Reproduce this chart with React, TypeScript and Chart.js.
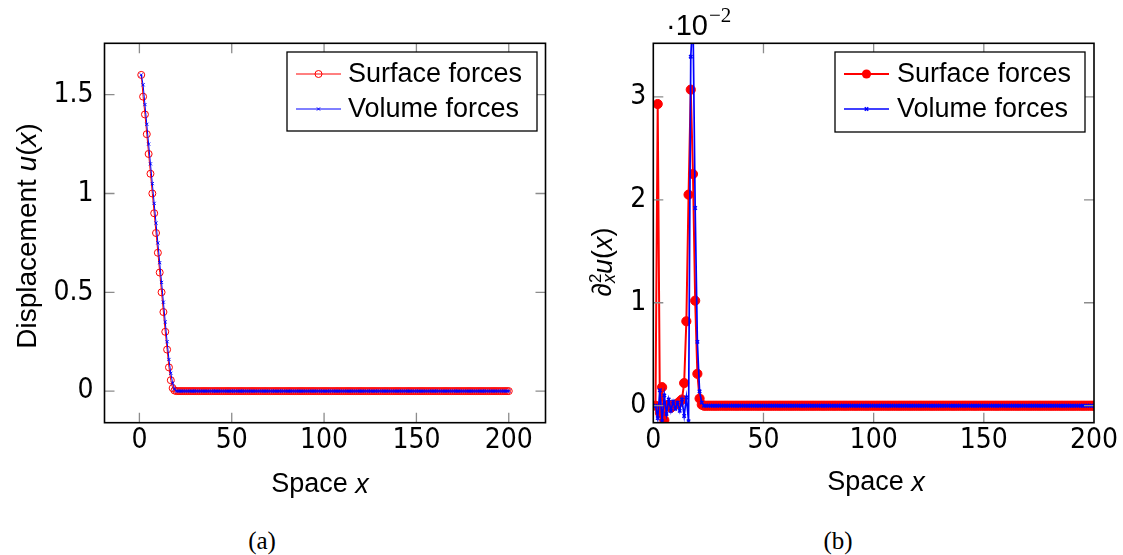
import React, { useEffect, useRef } from "react";
import { Chart, registerables } from "chart.js";

Chart.register(...registerables);

// ---------------- data ----------------
// Space x runs over the grid nodes 1..200 (one point per node).
const FIRST_X = 1;

// heads (x = 1..22)
const leftSurfaceHead = [1.6, 1.49, 1.4, 1.3, 1.2, 1.1, 1.0, 0.9, 0.8, 0.7, 0.6, 0.5, 0.4, 0.3, 0.21, 0.12, 0.055, 0.015, 0.003, 0, 0, 0];
const leftVolumeHead = [1.6, 1.55, 1.45, 1.35, 1.25, 1.15, 1.05, 0.95, 0.85, 0.75, 0.65, 0.55, 0.45, 0.35, 0.25, 0.16, 0.09, 0.04, 0.01, 0, 0, 0];
const rightSurfaceHead = [0, 2.93, -0.07, 0.18, -0.14, 0.0, 0.01, -0.02, 0.0, 0.01, 0.02, 0.04, 0.06, 0.22, 0.82, 2.05, 3.07, 2.25, 1.02, 0.31, 0.07, 0.01];
const rightVolumeHead = [0, -0.12, 0.15, -0.15, 0.1, -0.08, 0.06, -0.05, 0.04, -0.03, 0.03, -0.05, 0.06, -0.1, 0.08, -0.15, 3.39, 3.8, 1.92, 0.62, 0.14, 0.03];

// flat tail (x = 23..200): every curve sits on zero
const flatTail = [
  0, 0, 0, 0, 0, 0, 0, 0, 0, 0,
  0, 0, 0, 0, 0, 0, 0, 0, 0, 0,
  0, 0, 0, 0, 0, 0, 0, 0, 0, 0,
  0, 0, 0, 0, 0, 0, 0, 0, 0, 0,
  0, 0, 0, 0, 0, 0, 0, 0, 0, 0,
  0, 0, 0, 0, 0, 0, 0, 0, 0, 0,
  0, 0, 0, 0, 0, 0, 0, 0, 0, 0,
  0, 0, 0, 0, 0, 0, 0, 0, 0, 0,
  0, 0, 0, 0, 0, 0, 0, 0, 0, 0,
  0, 0, 0, 0, 0, 0, 0, 0, 0, 0,
  0, 0, 0, 0, 0, 0, 0, 0, 0, 0,
  0, 0, 0, 0, 0, 0, 0, 0, 0, 0,
  0, 0, 0, 0, 0, 0, 0, 0, 0, 0,
  0, 0, 0, 0, 0, 0, 0, 0, 0, 0,
  0, 0, 0, 0, 0, 0, 0, 0, 0, 0,
  0, 0, 0, 0, 0, 0, 0, 0, 0, 0,
  0, 0, 0, 0, 0, 0, 0, 0, 0, 0,
  0, 0, 0, 0, 0, 0, 0, 0,
];

const leftSurface = [...leftSurfaceHead, ...flatTail];
const leftVolume = [...leftVolumeHead, ...flatTail];
const rightSurface = [...rightSurfaceHead, ...flatTail];
const rightVolume = [...rightVolumeHead, ...flatTail];

const xTickValues = [0, 50, 100, 150, 200];
const leftYTickValues = [0, 0.5, 1, 1.5];
const leftYTickLabels = ["0", "0.5", "1", "1.5"];
const rightYTickValues = [0, 1, 2, 3];
const rightYTickLabels = ["0", "1", "2", "3"];

const SURFACE_LABEL = "Surface forces";
const VOLUME_LABEL = "Volume forces";

// ---------------- styling ----------------
const TICK_FONT = '"Liberation Sans Narrow", "DejaVu Sans Condensed", sans-serif';
const TEXT_FONT = '"Liberation Sans", Arial, sans-serif';
const RED = "#ff0000";
const BLUE = "#0000ff";
const CANVAS_H = 510;
const PLOT_TOP = 43.3;
const PLOT_BOTTOM = 422.7;

const toPoints = (vals: number[]) => vals.map((v, i) => ({ x: FIRST_X + i, y: v }));

type Part = { t: string; italic?: boolean; size?: number; dy?: number; noAdvance?: boolean; family?: string };

function drawRich(ctx: CanvasRenderingContext2D, parts: Part[], cx: number, cy: number, rotated: boolean, baseSize: number) {
  ctx.save();
  ctx.translate(cx, cy);
  if (rotated) ctx.rotate(-Math.PI / 2);
  ctx.textBaseline = "middle";
  ctx.textAlign = "left";
  ctx.fillStyle = "#000";
  const fontOf = (p: Part) => `${p.italic ? "italic " : ""}${p.size ?? baseSize}px ${p.family ?? TEXT_FONT}`;
  let total = 0;
  for (const p of parts) {
    ctx.font = fontOf(p);
    if (!p.noAdvance) total += ctx.measureText(p.t).width;
  }
  let x = -total / 2;
  for (const p of parts) {
    ctx.font = fontOf(p);
    ctx.fillText(p.t, x, p.dy ?? 0);
    if (!p.noAdvance) x += ctx.measureText(p.t).width;
  }
  ctx.restore();
}

type LegendRow = { label: string; color: string; lineWidth: number; marker: "circle" | "cross"; radius: number; filled: boolean; markerWidth: number };
type LegendSpec = { x0: number; y0: number; x1: number; y1: number; lineX0: number; lineX1: number; textX: number; rowY: number[] };

function drawMarker(ctx: CanvasRenderingContext2D, r: LegendRow, x: number, y: number) {
  ctx.save();
  ctx.strokeStyle = r.color;
  ctx.fillStyle = r.color;
  ctx.lineWidth = r.markerWidth;
  if (r.marker === "circle") {
    ctx.beginPath();
    ctx.arc(x, y, r.radius, 0, Math.PI * 2);
    if (r.filled) ctx.fill();
    else ctx.stroke();
  } else {
    const d = r.radius * 0.7071;
    ctx.beginPath();
    ctx.moveTo(x - d, y - d);
    ctx.lineTo(x + d, y + d);
    ctx.moveTo(x - d, y + d);
    ctx.lineTo(x + d, y - d);
    ctx.stroke();
  }
  ctx.restore();
}

function drawLegend(ctx: CanvasRenderingContext2D, spec: LegendSpec, rows: LegendRow[]) {
  ctx.save();
  ctx.fillStyle = "#fff";
  ctx.fillRect(spec.x0, spec.y0, spec.x1 - spec.x0, spec.y1 - spec.y0);
  ctx.strokeStyle = "#000";
  ctx.lineWidth = 1.3;
  ctx.strokeRect(spec.x0, spec.y0, spec.x1 - spec.x0, spec.y1 - spec.y0);
  rows.forEach((r, i) => {
    const y = spec.rowY[i];
    ctx.strokeStyle = r.color;
    ctx.lineWidth = r.lineWidth;
    ctx.beginPath();
    ctx.moveTo(spec.lineX0, y);
    ctx.lineTo(spec.lineX1, y);
    ctx.stroke();
    drawMarker(ctx, r, (spec.lineX0 + spec.lineX1) / 2, y);
    ctx.fillStyle = "#000";
    ctx.font = `27px ${TEXT_FONT}`;
    ctx.textBaseline = "middle";
    ctx.textAlign = "left";
    ctx.fillText(r.label, spec.textX, y + 1);
  });
  ctx.restore();
}

type Extra = {
  xTicks: number[];
  yTicks: number[];
  legend: LegendSpec;
  legendRows: LegendRow[];
  draw: (ctx: CanvasRenderingContext2D) => void;
};

function makePlugin(extra: Extra) {
  return {
    id: "pgfFrame",
    afterDatasetsDraw(chart: any) {
      const { ctx, chartArea: a, scales } = chart;
      const x = scales.x;
      const y = scales.y;
      ctx.save();
      ctx.strokeStyle = "#8c8c8c";
      ctx.lineWidth = 1.3;
      ctx.beginPath();
      for (const v of extra.xTicks) {
        const px = x.getPixelForValue(v);
        if (px <= a.left + 1 || px >= a.right - 1) continue;
        ctx.moveTo(px, a.bottom);
        ctx.lineTo(px, a.bottom - 10);
        ctx.moveTo(px, a.top);
        ctx.lineTo(px, a.top + 10);
      }
      for (const v of extra.yTicks) {
        const py = y.getPixelForValue(v);
        ctx.moveTo(a.left, py);
        ctx.lineTo(a.left + 10, py);
        ctx.moveTo(a.right, py);
        ctx.lineTo(a.right - 10, py);
      }
      ctx.stroke();
      ctx.strokeStyle = "#000";
      ctx.lineWidth = 1.6;
      ctx.strokeRect(a.left, a.top, a.right - a.left, a.bottom - a.top);
      ctx.restore();
    },
    afterDraw(chart: any) {
      const ctx = chart.ctx;
      drawLegend(ctx, extra.legend, extra.legendRows);
      extra.draw(ctx);
    },
  };
}

function makeConfig(opts: {
  surface: number[];
  volume: number[];
  xMin: number;
  xMax: number;
  yMin: number;
  yMax: number;
  yTicks: number[];
  yLabels: string[];
  yAxisWidth: number;
  yPad: number;
  rightPad: number;
  surfaceStyle: any;
  volumeStyle: any;
  plugin: any;
}) {
  return {
    type: "line" as const,
    data: {
      datasets: [
        {
          label: VOLUME_LABEL,
          data: toPoints(opts.volume),
          order: 0,
          tension: 0,
          borderColor: BLUE,
          pointBorderColor: BLUE,
          pointBackgroundColor: BLUE,
          pointStyle: "crossRot",
          ...opts.volumeStyle,
        },
        {
          label: SURFACE_LABEL,
          data: toPoints(opts.surface),
          order: 1,
          tension: 0,
          borderColor: RED,
          pointBorderColor: RED,
          pointStyle: "circle",
          ...opts.surfaceStyle,
        },
      ],
    },
    options: {
      animation: false,
      responsive: false,
      maintainAspectRatio: false,
      events: [],
      layout: { padding: { top: PLOT_TOP, right: opts.rightPad, left: 0, bottom: 0 } },
      plugins: { legend: { display: false }, tooltip: { enabled: false }, title: { display: false } },
      scales: {
        x: {
          type: "linear",
          min: opts.xMin,
          max: opts.xMax,
          afterBuildTicks: (s: any) => {
            s.ticks = xTickValues.map((v) => ({ value: v }));
          },
          afterFit: (s: any) => {
            s.height = CANVAS_H - PLOT_BOTTOM;
          },
          grid: { display: false, drawTicks: false },
          border: { display: false },
          ticks: {
            autoSkip: false,
            maxRotation: 0,
            padding: 1,
            color: "#000",
            font: { family: TICK_FONT, size: 28 },
            callback: (v: any) => String(v),
          },
        },
        y: {
          type: "linear",
          min: opts.yMin,
          max: opts.yMax,
          afterBuildTicks: (s: any) => {
            s.ticks = opts.yTicks.map((v) => ({ value: v }));
          },
          afterFit: (s: any) => {
            s.width = opts.yAxisWidth;
          },
          grid: { display: false, drawTicks: false },
          border: { display: false },
          ticks: {
            autoSkip: false,
            padding: opts.yPad,
            color: "#000",
            font: { family: TICK_FONT, size: 28 },
            callback: (v: any) => {
              const i = opts.yTicks.indexOf(Number(v));
              return i >= 0 ? opts.yLabels[i] : "";
            },
          },
        },
      },
    },
    plugins: [opts.plugin],
  };
}

export default function App() {
  const ref1 = useRef<HTMLCanvasElement>(null);
  const ref2 = useRef<HTMLCanvasElement>(null);

  useEffect(() => {
    const leftRows: LegendRow[] = [
      { label: SURFACE_LABEL, color: RED, lineWidth: 1, marker: "circle", radius: 3.5, filled: false, markerWidth: 1 },
      { label: VOLUME_LABEL, color: BLUE, lineWidth: 1, marker: "cross", radius: 2.2, filled: false, markerWidth: 1 },
    ];
    const rightRows: LegendRow[] = [
      { label: SURFACE_LABEL, color: RED, lineWidth: 2, marker: "circle", radius: 4.6, filled: true, markerWidth: 1 },
      { label: VOLUME_LABEL, color: BLUE, lineWidth: 1.7, marker: "cross", radius: 2.4, filled: false, markerWidth: 1.5 },
    ];

    const plugin1 = makePlugin({
      xTicks: xTickValues,
      yTicks: leftYTickValues,
      legend: { x0: 287, y0: 52, x1: 537, y1: 131, lineX0: 296, lineX1: 341, textX: 348, rowY: [74, 109] },
      legendRows: leftRows,
      draw: (ctx) => {
        drawRich(ctx, [{ t: "Displacement " }, { t: "u", italic: true }, { t: "(" }, { t: "x", italic: true }, { t: ")" }], 28, 236, true, 28);
        drawRich(ctx, [{ t: "Space " }, { t: "x", italic: true }], 320, 485, false, 27);
      },
    });

    const plugin2 = makePlugin({
      xTicks: xTickValues,
      yTicks: rightYTickValues,
      legend: { x0: 275, y0: 52, x1: 525, y1: 132, lineX0: 284, lineX1: 329, textX: 337, rowY: [74, 109] },
      legendRows: rightRows,
      draw: (ctx) => {
        drawRich(
          ctx,
          [
            { t: "∂" },
            { t: "2", size: 17, dy: -8, noAdvance: true },
            { t: "x", italic: true, size: 18, dy: 6 },
            { t: "u", italic: true },
            { t: "(" },
            { t: "x", italic: true },
            { t: ")" },
          ],
          44,
          262,
          true,
          27
        );
        drawRich(ctx, [{ t: "Space " }, { t: "x", italic: true }], 316, 483, false, 27);
        ctx.save();
        ctx.fillStyle = "#000";
        ctx.textBaseline = "alphabetic";
        ctx.textAlign = "left";
        ctx.font = `29px ${TEXT_FONT}`;
        ctx.fillText("·10", 106, 35);
        const w = ctx.measureText("·10").width;
        ctx.font = `21px "Liberation Serif", "DejaVu Serif", serif`;
        ctx.fillText("−2", 106 + w + 1, 22);
        ctx.restore();
      },
    });

    const cfg1 = makeConfig({
      surface: leftSurface,
      volume: leftVolume,
      xMin: -18.9,
      xMax: 219.9,
      yMin: -0.16,
      yMax: 1.76,
      yTicks: leftYTickValues,
      yLabels: leftYTickLabels,
      yAxisWidth: 104.5,
      yPad: 11,
      rightPad: 560 - 545.5,
      surfaceStyle: { borderWidth: 1, pointRadius: 3.5, pointBorderWidth: 1, pointBackgroundColor: "rgba(0,0,0,0)" },
      volumeStyle: { borderWidth: 1, pointRadius: 2.2, pointBorderWidth: 1 },
      plugin: plugin1,
    });

    const cfg2 = makeConfig({
      surface: rightSurface,
      volume: rightVolume,
      xMin: 0,
      xMax: 200,
      yMin: -0.165,
      yMax: 3.52,
      yTicks: rightYTickValues,
      yLabels: rightYTickLabels,
      yAxisWidth: 653.3 - 560,
      yPad: 7,
      rightPad: 563 - 534,
      surfaceStyle: { borderWidth: 2, pointRadius: 4.6, pointBorderWidth: 1, pointBackgroundColor: RED },
      volumeStyle: { borderWidth: 1.7, pointRadius: 2.4, pointBorderWidth: 1.5 },
      plugin: plugin2,
    });

    const c1 = new Chart(ref1.current as HTMLCanvasElement, cfg1 as any);
    const c2 = new Chart(ref2.current as HTMLCanvasElement, cfg2 as any);
    return () => {
      c1.destroy();
      c2.destroy();
    };
  }, []);

  const captionStyle: React.CSSProperties = {
    position: "absolute",
    top: 526,
    width: 100,
    textAlign: "center",
    fontFamily: '"Liberation Serif", "DejaVu Serif", serif',
    fontSize: 25,
    lineHeight: "30px",
    color: "#000",
  };

  return (
    <div style={{ position: "fixed", left: 0, top: 0, width: 1123, height: 555, background: "#fff", overflow: "hidden" }}>
      <canvas ref={ref1} width={560} height={CANVAS_H} style={{ position: "absolute", left: 0, top: 0, width: 560, height: CANVAS_H }} />
      <canvas ref={ref2} width={563} height={CANVAS_H} style={{ position: "absolute", left: 560, top: 0, width: 563, height: CANVAS_H }} />
      <div style={{ ...captionStyle, left: 212 }}>(a)</div>
      <div style={{ ...captionStyle, left: 788 }}>(b)</div>
    </div>
  );
}
